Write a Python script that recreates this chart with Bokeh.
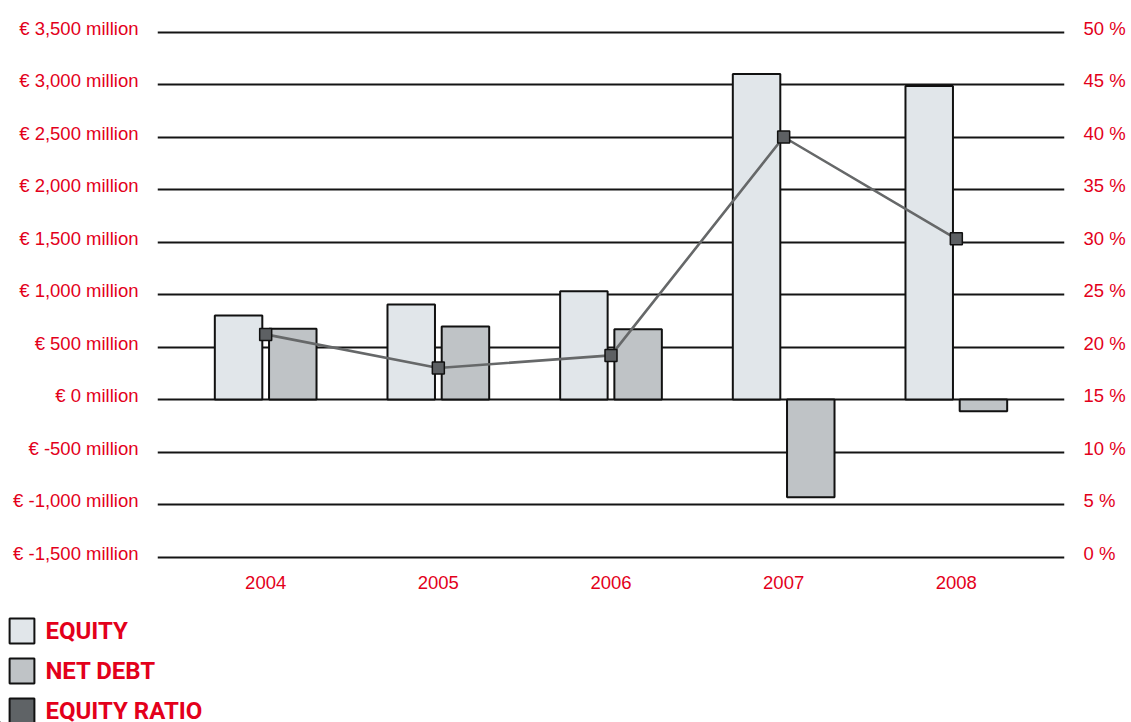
from bokeh.plotting import figure
from bokeh.models import (ColumnDataSource, LinearAxis, Range1d, FixedTicker,
                          Legend, LegendItem)
from bokeh.transform import dodge
from bokeh.embed import file_html
from bokeh.resources import INLINE

# Data
years = ["2004", "2005", "2006", "2007", "2008"]
equity = [800, 905, 1030, 3100, 2985]          # € million
net_debt = [675, 695, 670, -930, -112]          # € million
equity_ratio = [21.2, 18.0, 19.2, 40.0, 30.3]  # %

left_ticks = [-1500, -1000, -500, 0, 500, 1000, 1500, 2000, 2500, 3000, 3500]
left_labels = ["€ -1,500 million", "€ -1,000 million", "€ -500 million", "€ 0 million",
               "€ 500 million", "€ 1,000 million", "€ 1,500 million", "€ 2,000 million",
               "€ 2,500 million", "€ 3,000 million", "€ 3,500 million"]
right_ticks = [0, 5, 10, 15, 20, 25, 30, 35, 40, 45, 50]
right_labels = ["0 %", "5 %", "10 %", "15 %", "20 %", "25 %", "30 %", "35 %",
                "40 %", "45 %", "50 %"]
legend_labels = ["EQUITY", "NET DEBT", "EQUITY RATIO"]

RED = "#e3001b"
FONT = "Liberation Sans"
EQ_FILL, ND_FILL, RATIO_FILL = "#e1e6ea", "#bfc3c6", "#5f6366"
EDGE = "#111111"

x_pos = list(range(1, len(years) + 1))
src = ColumnDataSource(dict(x=x_pos, equity=equity, net_debt=net_debt, ratio=equity_ratio))

# value axis: € -1,500 .. 3,500 million over 525 px, a little slack above and below
y_lo, y_hi = -1600, 3600
px_per_unit = 0.105
lift = 4 / px_per_unit  # tick labels sit a few pixels above their rule

p = figure(width=1131, height=605, output_backend="svg", toolbar_location=None,
           x_range=Range1d(0.3735, 5.6265), y_range=Range1d(y_lo, y_hi),
           min_border_left=157, min_border_right=67, min_border_top=21,
           min_border_bottom=38, x_axis_location=None, y_axis_location=None)
p.outline_line_color = None
p.background_fill_color = "white"
p.border_fill_color = "white"

# percent scale: 15 % sits on € 0 million, 5 % per € 500 million
p.extra_y_ranges = {
    "pct": Range1d(15 + y_lo / 100, 15 + y_hi / 100),
    "lbl_l": Range1d(y_lo - lift, y_hi - lift),
    "lbl_r": Range1d(15 + (y_lo - lift) / 100, 15 + (y_hi - lift) / 100),
}

ax_l = LinearAxis(y_range_name="lbl_l", ticker=FixedTicker(ticks=left_ticks),
                  major_label_overrides={t: s for t, s in zip(left_ticks, left_labels)})
ax_r = LinearAxis(y_range_name="lbl_r", ticker=FixedTicker(ticks=right_ticks),
                  major_label_overrides={t: s for t, s in zip(right_ticks, right_labels)})
ax_b = LinearAxis(ticker=FixedTicker(ticks=x_pos),
                  major_label_overrides={x: y for x, y in zip(x_pos, years)})

for ax, standoff in ((ax_l, 19), (ax_r, 19), (ax_b, 8)):
    ax.axis_line_color = None
    ax.major_tick_line_color = None
    ax.minor_tick_line_color = None
    ax.major_tick_in = 0
    ax.major_tick_out = 0
    ax.major_label_text_color = RED
    ax.major_label_text_font = FONT
    ax.major_label_text_font_size = "18.5px"
    ax.major_label_standoff = standoff
p.add_layout(ax_l, "left")
p.add_layout(ax_r, "right")
p.add_layout(ax_b, "below")

# horizontal rules
p.ygrid.ticker = FixedTicker(ticks=left_ticks)
p.ygrid.grid_line_color = "#141414"
p.ygrid.grid_line_width = 2
p.xgrid.visible = False

# bars
p.vbar(x=dodge("x", -0.157, range=p.x_range), top="equity", bottom=0, width=0.275,
       source=src, fill_color=EQ_FILL, line_color=EDGE, line_width=2)
p.vbar(x=dodge("x", 0.157, range=p.x_range), top="net_debt", bottom=0, width=0.275,
       source=src, fill_color=ND_FILL, line_color=EDGE, line_width=2)

# equity ratio line
p.line(x="x", y="ratio", source=src, y_range_name="pct", line_color="#666869", line_width=2.6)
p.scatter(x="x", y="ratio", source=src, y_range_name="pct", marker="square", size=12,
          fill_color="#5d6063", line_color=EDGE, line_width=1.5)

# key below the chart, as its own root so its frame spans the full width
k = figure(width=1131, height=117, output_backend="svg", toolbar_location=None,
           x_range=Range1d(0, 1), y_range=Range1d(0, 1),
           min_border_left=0, min_border_right=0, min_border_top=0, min_border_bottom=0,
           x_axis_location=None, y_axis_location=None)
k.outline_line_color = None
k.xgrid.visible = False
k.ygrid.visible = False
k.border_fill_color = "white"

# swatch renderers for the key; their single bar lies outside the key's view
key_src = ColumnDataSource(dict(x=[-1], top=[0]))
items = []
for label, fill in zip(legend_labels, (EQ_FILL, ND_FILL, RATIO_FILL)):
    r = k.vbar(x="x", top="top", width=0.1, source=key_src,
               fill_color=fill, line_color=EDGE, line_width=2)
    items.append(LegendItem(label=label, renderers=[r]))

legend = Legend(items=items, location=(6.4, -4.2), orientation="vertical",
                glyph_width=31, glyph_height=31, label_height=31, label_standoff=8,
                spacing=9, padding=0, margin=0,
                border_line_color=None, background_fill_alpha=0,
                label_text_font="Roboto", label_text_font_style="bold",
                label_text_font_size="24px", label_text_color=RED)
k.add_layout(legend, "center")

html = file_html([p, k], INLINE)
html = html.replace("<head>", "<head><style>html,body{margin:0;padding:0;}</style>", 1)
open("out.html", "w").write(html)
